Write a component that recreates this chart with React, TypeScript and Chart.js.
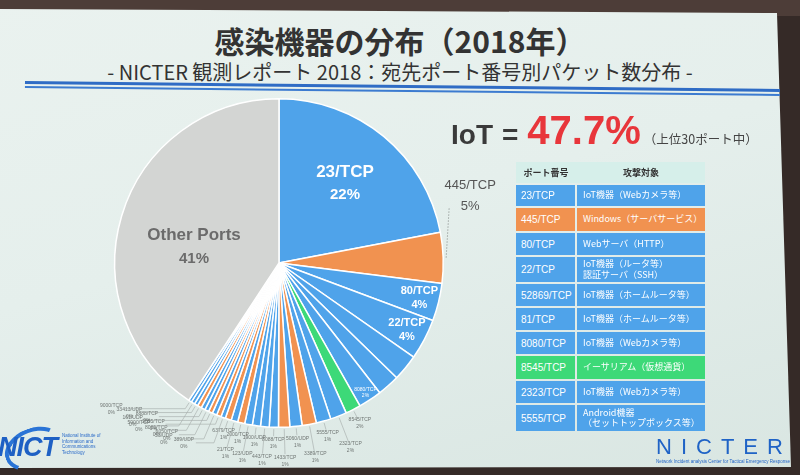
import React, { useEffect, useRef } from "react";
import { Chart, registerables } from "chart.js";

Chart.register(...registerables);

// ---- Pie data (clockwise from 12 o'clock) ----
const portLabels = [
  "23/TCP", "445/TCP", "80/TCP", "22/TCP", "52869/TCP", "81/TCP", "8080/TCP", "8545/TCP", "2323/TCP",
  "5555/TCP", "3389/TCP", "5060/UDP", "1433/TCP", "8088/TCP", "443/TCP", "1900/UDP", "123/UDP", "2000/TCP",
  "21/TCP", "6379/TCP", "389/UDP", "2555/TCP", "53/UDP", "161/UDP", "6050/TCP", "8888/TCP", "8081/TCP",
  "33413/UDP", "5900/TCP", "9000/TCP", "Other Ports",
];
const portShares = [
  22, 5, 3.7, 4, 2.6, 2.2, 2.3, 1.5, 1.6,
  1.45, 1.4, 1.2, 1.1, 0.9, 0.85, 0.8, 0.75, 0.7,
  0.65, 0.6, 0.45, 0.45, 0.45, 0.4, 0.4, 0.4, 0.4,
  0.35, 0.35, 0.3, 40.75,
];
const portKinds = [
  "iot", "windows", "iot", "iot", "iot", "iot", "iot", "crypto", "iot",
  "iot", "windows", "iot", "windows", "iot", "iot", "iot", "iot", "windows",
  "iot", "windows", "iot", "windows", "iot", "windows", "iot", "iot", "windows",
  "iot", "iot", "iot", "other",
];

// ---- Table data ----
const tablePorts = ["23/TCP", "445/TCP", "80/TCP", "22/TCP", "52869/TCP", "81/TCP", "8080/TCP", "8545/TCP", "2323/TCP", "5555/TCP"];
const tableTargets = [
  "IoT機器（Webカメラ等）",
  "Windows（サーバサービス）",
  "Webサーバ（HTTP）",
  "IoT機器（ルータ等）\n認証サーバ（SSH）",
  "IoT機器（ホームルータ等）",
  "IoT機器（ホームルータ等）",
  "IoT機器（Webカメラ等）",
  "イーサリアム（仮想通貨）",
  "IoT機器（Webカメラ等）",
  "Android機器\n（セットトップボックス等）",
];
const tableHeaders = ["ポート番号", "攻撃対象"];

const titleText = "感染機器の分布（2018年）";
const subtitleText = "- NICTER 観測レポート 2018：宛先ポート番号別パケット数分布 -";
const iotShareText = "47.7%";

const BLUE = "#4FA3EA";
const ORANGE = "#F19250";
const GREEN = "#3DD978";
const GRAY = "#D3D5D3";
const kindColor: Record<string, string> = { iot: BLUE, windows: ORANGE, crypto: GREEN, other: GRAY };

const FONT_LAT = '"Liberation Sans", "Noto Sans CJK JP", sans-serif';
const FONT_JP = '"Noto Sans CJK JP", "Liberation Sans", sans-serif';

const insideTiny = new Set(["8080/TCP"]);
const unlabeled = new Set(["52869/TCP", "81/TCP"]);

const sliceLabelPlugin = {
  id: "sliceLabels",
  afterDatasetsDraw(chart: any) {
    const ctx = chart.ctx as CanvasRenderingContext2D;
    const meta = chart.getDatasetMeta(0);
    let tinyCount = 0;
    let leftCount = 0;
    meta.data.forEach((arc: any, i: number) => {
      const v = portShares[i];
      const name = portLabels[i];
      if (unlabeled.has(name)) return;
      const pct = Math.round(v) + "%";
      const mid = (arc.startAngle + arc.endAngle) / 2;
      const R = arc.outerRadius;
      const cx = arc.x;
      const cy = arc.y;
      const c = Math.cos(mid);
      const s = Math.sin(mid);
      const at = (r: number) => [cx + r * c, cy + r * s];
      ctx.save();
      ctx.textAlign = "center";
      ctx.textBaseline = "middle";
      if (v >= 10) {
        const isOther = portKinds[i] === "other";
        const [x, y0] = at(R * (isOther ? 0.54 : 0.63));
        const y = isOther ? y0 + 9 : y0;
        ctx.fillStyle = isOther ? "#6B6B6B" : "#FFFFFF";
        ctx.font = `bold 17px ${FONT_LAT}`;
        ctx.fillText(name, x, y - 11);
        ctx.font = `bold 15px ${FONT_LAT}`;
        ctx.fillText(pct, x, y + 12);
      } else if (i === 1) {
        const [ax, ay] = at(R + 3);
        ctx.strokeStyle = "#8E9492";
        ctx.lineWidth = 0.8;
        ctx.setLineDash([1.5, 1.5]);
        ctx.beginPath();
        ctx.moveTo(ax, ay);
        ctx.lineTo(ax + 3, ay - 50);
        ctx.stroke();
        ctx.setLineDash([]);
        ctx.fillStyle = "#555";
        ctx.font = `13px ${FONT_LAT}`;
        ctx.fillText(name, ax + 24, ay - 72);
        ctx.fillText(pct, ax + 24, ay - 51);
      } else if (v >= 3) {
        const [x, y] = at(R * 0.88);
        ctx.fillStyle = "#FFFFFF";
        ctx.font = `bold 11px ${FONT_LAT}`;
        ctx.fillText(name, x, y - 7);
        ctx.fillText(pct, x, y + 7);
      } else if (insideTiny.has(name)) {
        const [x, y] = at(R * 0.95);
        ctx.fillStyle = "#FFFFFF";
        ctx.font = `5px ${FONT_LAT}`;
        ctx.fillText(name, x, y - 3);
        ctx.fillText(pct, x, y + 3);
      } else {
        const far = tinyCount % 2 === 1;
        tinyCount++;
        const d = far ? 33 : 15;
        const deg = ((mid * 180) / Math.PI + 90 + 360) % 360; // clockwise from top
        const [x1, y1] = at(R + 2);
        const [x2, y2] = at(R + d - 6);
        let [lx, ly] = at(R + d);
        ctx.strokeStyle = "#A3A9A7";
        ctx.lineWidth = 0.6;
        ctx.beginPath();
        ctx.moveTo(x1, y1);
        ctx.lineTo(x2, y2);
        if (deg > 198) {
          const h = [18, 50, 28, 62, 16, 40][leftCount % 6];
          leftCount++;
          ctx.lineTo(x2 - h, y2);
          lx = x2 - h - 12;
          ly = y2;
        }
        ctx.stroke();
        ctx.fillStyle = "#6F7573";
        ctx.font = `5px ${FONT_LAT}`;
        ctx.fillText(name, lx, ly - 3);
        ctx.fillText(pct, lx, ly + 4);
      }
      ctx.restore();
    });
  },
};

function kindOfPort(p: string) {
  const idx = portLabels.indexOf(p);
  return idx >= 0 ? portKinds[idx] : "iot";
}

const rowHeights = [21, 23, 22, 25, 22, 22, 22, 23, 22, 26];

export default function App() {
  const canvasRef = useRef<HTMLCanvasElement>(null);

  useEffect(() => {
    const chart = new Chart(canvasRef.current as HTMLCanvasElement, {
      type: "pie",
      data: {
        labels: portLabels,
        datasets: [
          {
            data: portShares,
            backgroundColor: portKinds.map((k) => kindColor[k]),
            borderColor: "#FFFFFF",
            borderWidth: 1.5,
          },
        ],
      },
      options: {
        responsive: false,
        animation: false,
        layout: { padding: { left: 114, right: 356, top: 98, bottom: 47 } },
        plugins: { legend: { display: false }, tooltip: { enabled: false } },
      },
      plugins: [sliceLabelPlugin],
    } as any);
    return () => chart.destroy();
  }, []);

  let rowTop = 185;
  const rows = tablePorts.map((p, i) => {
    const top = rowTop;
    rowTop += rowHeights[i] + 2;
    const bg = kindColor[kindOfPort(p)];
    const lines = tableTargets[i].split("\n");
    return (
      <React.Fragment key={p}>
        <div
          style={{
            position: "absolute", left: 516, top, width: 59, height: rowHeights[i], background: bg,
            color: "#fff", font: `10px ${FONT_LAT}`, display: "flex", alignItems: "center", paddingLeft: 5,
            boxSizing: "border-box", whiteSpace: "nowrap",
          }}
        >
          {p}
        </div>
        <div
          style={{
            position: "absolute", left: 577, top, width: 128, height: rowHeights[i], background: bg,
            color: "#fff", font: `9px ${FONT_JP}`, display: "flex", flexDirection: "column", justifyContent: "center",
            paddingLeft: 6, boxSizing: "border-box", whiteSpace: "nowrap", lineHeight: "10.5px", overflow: "hidden",
          }}
        >
          {lines.map((l, k) => (
            <div key={k}>{l}</div>
          ))}
        </div>
      </React.Fragment>
    );
  });

  return (
    <div style={{ position: "fixed", left: 0, top: 0, width: 800, height: 475, overflow: "hidden", background: "#352A27" }}>
      <div style={{ position: "absolute", left: 0, top: 0, width: 800, height: 16, background: "#4D3D38" }} />
      <div
        style={{
          position: "absolute", left: 0, top: 0, width: 800, height: 475,
          background: "linear-gradient(165deg, #EAF2EF 0%, #E5EFEC 45%, #D9E6E2 100%)",
          clipPath: "polygon(0px 9px, 777px 13px, 791px 467px, 0px 468px)",
        }}
      />
      {/* Title */}
      <div style={{ position: "absolute", left: 0, width: 800, top: 20, textAlign: "center", font: `bold 30px ${FONT_JP}`, color: "#333", lineHeight: "40px" }}>
        {titleText}
      </div>
      <div style={{ position: "absolute", left: 0, width: 800, top: 59, textAlign: "center", font: `20px ${FONT_JP}`, color: "#333", lineHeight: "26px" }}>
        {subtitleText}
      </div>
      {/* Blue rule */}
      <div style={{ position: "absolute", left: 25, top: 81, width: 755, height: 8, transform: "rotate(0.6deg)", transformOrigin: "0 0" }}>
        <div style={{ height: 3, background: "#2F6CC5" }} />
        <div style={{ height: 2 }} />
        <div style={{ height: 2, background: "#3C7BD0" }} />
      </div>

      <canvas ref={canvasRef} width={800} height={475} style={{ position: "absolute", left: 0, top: 0, width: 800, height: 475 }} />

      {/* IoT share */}
      <div style={{ position: "absolute", left: 451, top: 108, display: "flex", alignItems: "baseline", whiteSpace: "nowrap" }}>
        <span style={{ font: `bold 28px ${FONT_LAT}`, color: "#3A3A3A" }}>IoT</span>
        <span style={{ font: `bold 28px ${FONT_LAT}`, color: "#3A3A3A", marginLeft: 9 }}>=</span>
        <span style={{ font: `bold 40px ${FONT_LAT}`, color: "#E8363B", marginLeft: 9 }}>{iotShareText}</span>
        <span style={{ font: `12.5px ${FONT_JP}`, color: "#444", marginLeft: 3 }}>（上位30ポート中）</span>
      </div>

      {/* Table */}
      <div style={{ position: "absolute", left: 516, top: 162, width: 189, height: 21, background: "#D6EFEA" }} />
      <div style={{ position: "absolute", left: 516, top: 162, width: 60, height: 21, display: "flex", alignItems: "center", justifyContent: "center", font: `bold 9px ${FONT_JP}`, color: "#333" }}>
        {tableHeaders[0]}
      </div>
      <div style={{ position: "absolute", left: 577, top: 162, width: 128, height: 21, display: "flex", alignItems: "center", justifyContent: "center", font: `bold 9px ${FONT_JP}`, color: "#333" }}>
        {tableHeaders[1]}
      </div>
      {rows}

      {/* NICT logo */}
      <div style={{ position: "absolute", left: 4, top: 428, width: 52, height: 34, border: "4px solid #2A74D6", borderRadius: "50%", borderRightColor: "transparent", borderBottomColor: "transparent", transform: "rotate(-20deg)" }} />
      <div style={{ position: "absolute", left: -2, top: 432, font: `italic bold 27px ${FONT_LAT}`, color: "#1E60C4", letterSpacing: -1 }}>NICT</div>
      <div style={{ position: "absolute", left: 62, top: 433, font: `4.5px ${FONT_LAT}`, color: "#2A6BC9", lineHeight: "5.5px" }}>
        <div>National Institute of</div>
        <div>Information and</div>
        <div>Communications</div>
        <div>Technology</div>
      </div>

      {/* NICTER logo */}
      <div style={{ position: "absolute", left: 656, top: 436, font: `500 22px ${FONT_LAT}`, color: "#1F63C6", letterSpacing: 9, lineHeight: "22px", whiteSpace: "nowrap" }}>NICTER</div>
      <div style={{ position: "absolute", left: 656, top: 459, font: `4.5px ${FONT_LAT}`, color: "#1F63C6", whiteSpace: "nowrap" }}>
        Network Incident analysis Center for Tactical Emergency Response
      </div>
    </div>
  );
}
